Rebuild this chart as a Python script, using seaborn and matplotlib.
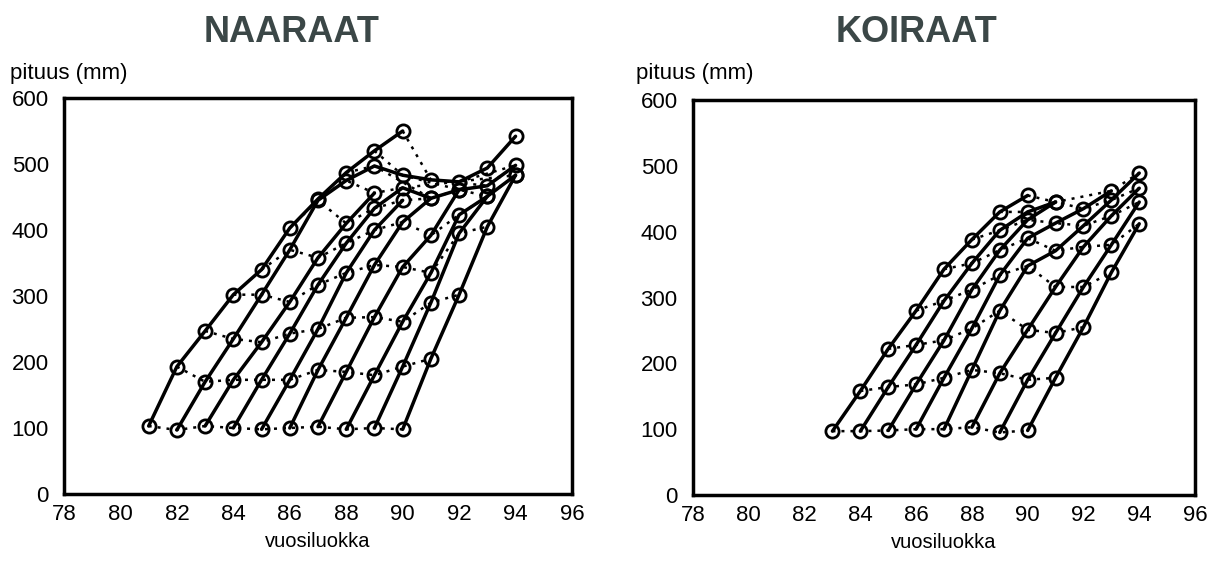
import matplotlib
matplotlib.use("Agg")
import matplotlib.pyplot as plt
import numpy as np
import pandas as pd
import seaborn as sns

# ---- data: NAARAAT (females); each cohort starts at its own year ----
f_start = [81, 82, 83, 84, 85, 86, 87, 88, 89, 90]
f_c81 = [103, 193, 247, 302, 340, 403, 447, 487, 520, 550]
f_c82 = [97, 170, 235, 302, 370, 445, 475, 497, 483, 476, 473, 494, 542]
f_c83 = [103, 173, 230, 291, 358, 410, 456]
f_c84 = [100, 173, 243, 317, 380, 433, 464, 448, 461, 467, 498]
f_c85 = [98, 173, 250, 335, 400, 445]
f_c86 = [100, 188, 267, 347, 412, 448]
f_c87 = [102, 185, 268, 344, 392, 461]
f_c88 = [98, 180, 261, 335, 423, 451, 483]
f_c89 = [100, 193, 290, 395, 451]
f_c90 = [98, 205, 302, 405, 483]
f_series = [f_c81, f_c82, f_c83, f_c84, f_c85, f_c86, f_c87, f_c88, f_c89, f_c90]

# ---- data: KOIRAAT (males) ----
m_start = [83, 84, 85, 86, 87, 88, 89, 90]
m_c83 = [97, 158, 222, 280, 343, 388, 430, 455]
m_c84 = [97, 164, 228, 295, 352, 402, 430, 445]
m_c85 = [98, 168, 235, 312, 372, 418, 445]
m_c86 = [100, 178, 253, 334, 390, 413, 435, 462]
m_c87 = [100, 190, 280, 348, 371, 409, 448, 489]
m_c88 = [103, 185, 251, 316, 377, 424, 466]
m_c89 = [95, 175, 246, 316, 380, 445]
m_c90 = [98, 178, 255, 338, 412]
m_series = [m_c83, m_c84, m_c85, m_c86, m_c87, m_c88, m_c89, m_c90]

x_ticks = [78, 80, 82, 84, 86, 88, 90, 92, 94, 96]
y_ticks = [0, 100, 200, 300, 400, 500, 600]


def build(starts, series):
    rows = []
    for s, vals in zip(starts, series):
        for age, v in enumerate(vals):
            rows.append({"cohort": s, "age": age, "year": s + age, "len": v})
    return pd.DataFrame(rows)


df_f = build(f_start, f_series)
df_m = build(m_start, m_series)

sns.set_theme(style="white")
plt.rcParams["font.family"] = ["Liberation Sans", "DejaVu Sans"]
plt.rcParams["text.color"] = "black"
plt.rcParams["axes.labelcolor"] = "black"

fig = plt.figure(figsize=(12.10, 5.62), dpi=100)
ax1 = fig.add_axes([64 / 1210, 1 - 494 / 562, 508 / 1210, 396 / 562])
ax2 = fig.add_axes([693 / 1210, 1 - 495 / 562, 502 / 1210, 395 / 562])

for ax, df in [(ax1, df_f), (ax2, df_m)]:
    # dotted lines joining equal ages
    sns.lineplot(data=df, x="year", y="len", units="age", estimator=None,
                 color="black", lw=1.8, ls=(0, (1.2, 2.4)), ax=ax,
                 legend=False, sort=True, zorder=2)
    # solid growth lines of each cohort with open circle markers
    sns.lineplot(data=df, x="year", y="len", units="cohort", estimator=None,
                 color="black", lw=2.5, marker="o", markersize=9.5,
                 markerfacecolor="none", markeredgecolor="black",
                 markeredgewidth=2.0, ax=ax, legend=False, sort=True, zorder=3)
    ax.set_xlim(78, 96)
    ax.set_ylim(0, 600)
    ax.set_xticks(x_ticks)
    ax.set_yticks(y_ticks)
    ax.tick_params(axis="both", direction="in", length=6, width=1.5,
                   labelsize=16, colors="black", labelcolor="black", pad=7)
    ax.tick_params(axis="y", pad=11)
    for sp in ax.spines.values():
        sp.set_visible(True)
        sp.set_color("black")
        sp.set_linewidth(2.5)
    ax.set_xlabel("vuosiluokka", fontsize=14.5, labelpad=5, color="black")
    ax.set_ylabel("")
    ax.grid(False)

fig.text(292 / 1210, 1 - 33 / 562, "NAARAAT", ha="center", va="center",
         fontsize=26, fontweight="bold", color="#3b4747")
fig.text(916 / 1210, 1 - 33 / 562, "KOIRAAT", ha="center", va="center",
         fontsize=26, fontweight="bold", color="#3b4747")
fig.text(10 / 1210, 1 - 73 / 562, "pituus (mm)", ha="left", va="center",
         fontsize=16, color="black")
fig.text(636 / 1210, 1 - 73 / 562, "pituus (mm)", ha="left", va="center",
         fontsize=16, color="black")

fig.savefig("out.png", dpi=100, facecolor="white")
